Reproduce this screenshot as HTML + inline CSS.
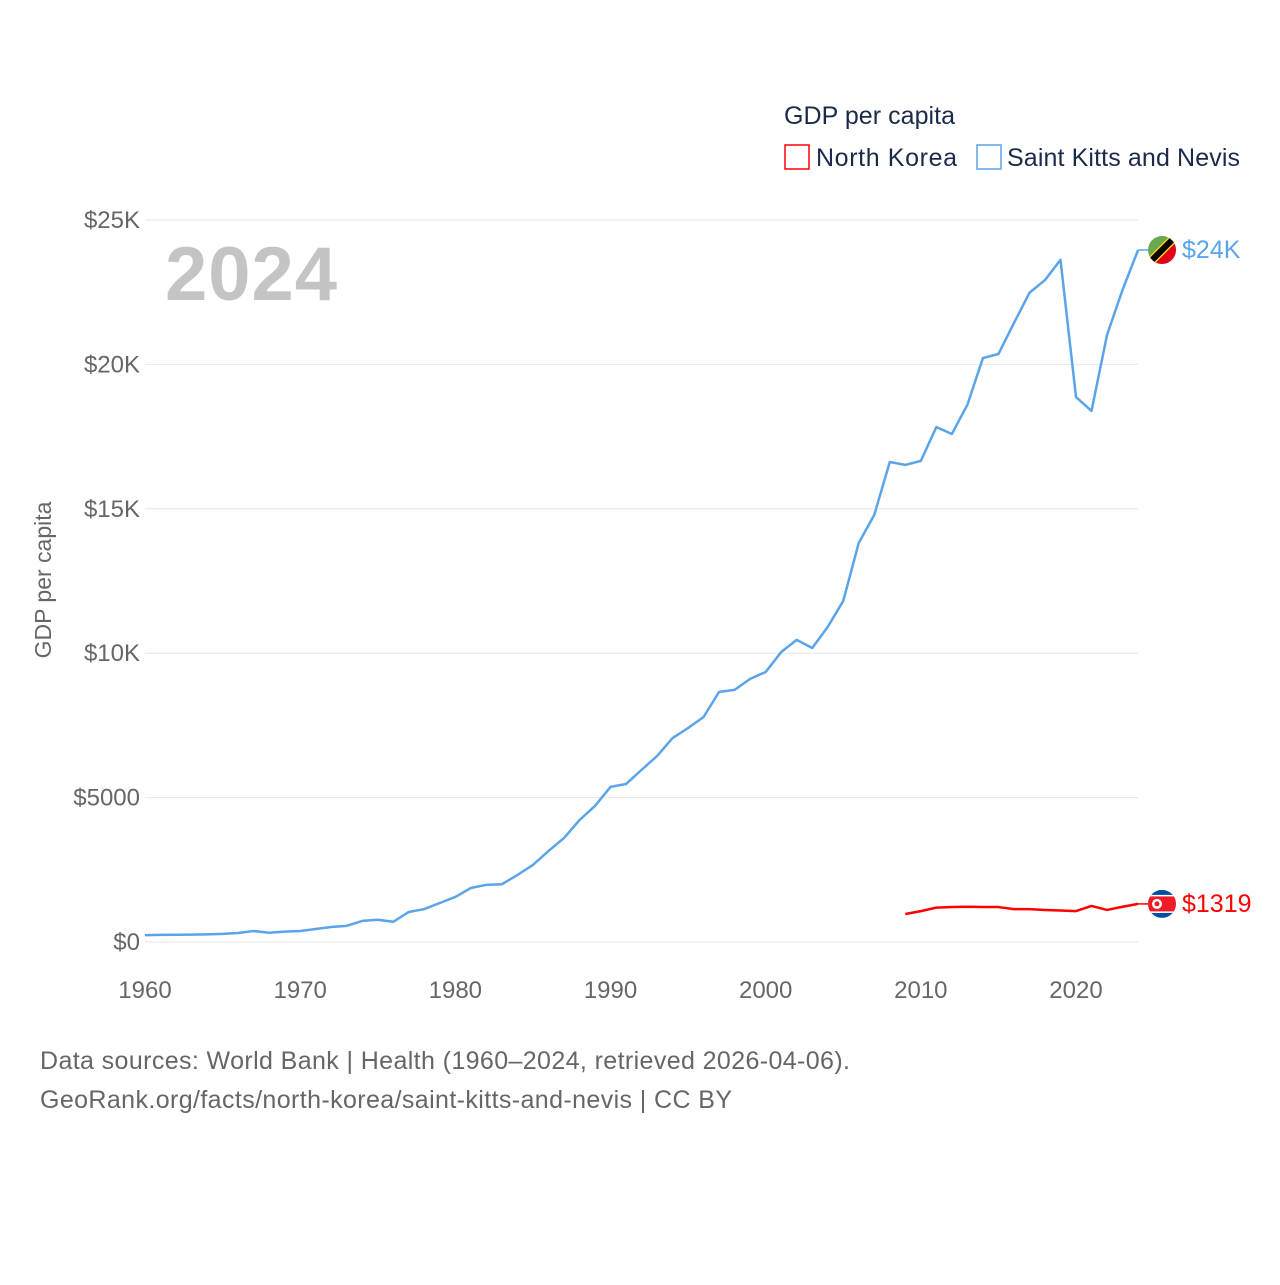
<!DOCTYPE html>
<html><head><meta charset="utf-8"><style>
body{margin:0;background:#fff;font-family:"Liberation Sans",sans-serif}
svg text{font-family:"Liberation Sans",sans-serif}
</style></head><body>
<svg width="1280" height="1280" xmlns="http://www.w3.org/2000/svg">
<text x="784" y="124" font-size="25" fill="#1b2a48" textLength="171">GDP per capita</text>
<g><rect x="785" y="145" width="24" height="24" fill="none" stroke="#f00" stroke-width="1.5"/><text x="816" y="166" font-size="25" fill="#1b2a48" textLength="141">North Korea</text></g>
<g><rect x="977" y="145" width="24" height="24" fill="none" stroke="#5ba4ea" stroke-width="1.5"/><text x="1007" y="166" font-size="25" fill="#1b2a48" textLength="233">Saint Kitts and Nevis</text></g>
<text x="165" y="300" font-size="76" font-weight="bold" fill="#c4c4c4" textLength="172">2024</text>
<text transform="translate(51,580) rotate(-90)" text-anchor="middle" font-size="23" fill="#666">GDP per capita</text>
<g id="grid"></g><g id="lines"></g>
<text x="40" y="1069" font-size="25" fill="#666" textLength="810">Data sources: World Bank | Health (1960–2024, retrieved 2026-04-06).</text>
<text x="40" y="1108" font-size="25" fill="#666" textLength="692">GeoRank.org/facts/north-korea/saint-kitts-and-nevis | CC BY</text>
</svg>
<script>
const yTicks=[0,5000,10000,15000,20000,25000];
const yTickLabels=["$0","$5000","$10K","$15K","$20K","$25K"];
const xTicks=[1960,1970,1980,1990,2000,2010,2020];
const kittsStart=1960;
const kittsValues=[240,245,250,255,265,280,310,380,320,360,380,450,520,560,730,770,700,1040,1140,1350,1560,1870,1980,2000,2320,2670,3150,3600,4220,4710,5370,5470,5960,6440,7060,7410,7790,8660,8730,9110,9350,10040,10460,10180,10910,11810,13820,14790,16620,16520,16660,17830,17590,18600,20220,20360,21430,22480,22920,23620,18870,18390,21020,22580,23960];
const nkStart=2009;
const nkValues=[970,1070,1190,1210,1220,1210,1210,1140,1140,1110,1090,1070,1250,1110,1220,1319];
const NS="http://www.w3.org/2000/svg";
const x=yr=>145+(yr-1960)*(1076-145)/60;
const y=v=>942-v*(722/25000);
function mk(t,a,p){const e=document.createElementNS(NS,t);for(const k in a)e.setAttribute(k,a[k]);p.appendChild(e);return e;}
const g=document.getElementById('grid'),L=document.getElementById('lines');
yTicks.forEach((v,i)=>{
 const l=mk('line',{x1:145,x2:1138,y1:y(v),y2:y(v),stroke:'#e6e6e6','stroke-width':1},g);
 
 
 const t=mk('text',{x:140,y:y(v)+8,'text-anchor':'end','font-size':24,fill:'#666'},g);
 t.textContent=yTickLabels[i];
 
 
});
xTicks.forEach(v=>{
 const t=mk('text',{x:x(v),y:998,'text-anchor':'middle','font-size':24,fill:'#666'},g);
 t.textContent=v;
 
 
});
function series(start,vals,col,name){
 const pts=vals.map((v,i)=>x(start+i)+','+y(v)).join(' ');
 const p=mk('polyline',{points:pts,fill:'none',stroke:col,'stroke-width':2.5,'stroke-linejoin':'round'},L);
 
 
}
series(kittsStart,kittsValues,'#5ba4ea','saint-kitts-line');
series(nkStart,nkValues,'#ff0000','north-korea-line');
const kLast=kittsValues[kittsValues.length-1],nLast=nkValues[nkValues.length-1];
const ky=y(kLast),ny=y(nLast);
const kf=mk('g',{},L);


mk('line',{x1:1138,x2:1148,y1:ky,y2:ky,stroke:'#5ba4ea','stroke-width':1.5},kf);
mk('clipPath',{id:'ck'},kf).appendChild(document.createElementNS(NS,'circle'));
const cc=kf.querySelector('#ck circle');cc.setAttribute('cx',1162);cc.setAttribute('cy',ky);cc.setAttribute('r',14);
const cg=mk('g',{'clip-path':'url(#ck)'},kf);
mk('polygon',{points:`1148,${ky-14} 1176,${ky-14} 1148,${ky+14}`,fill:'#6aa84f'},cg);
mk('polygon',{points:`1176,${ky-14} 1176,${ky+14} 1148,${ky+14}`,fill:'#e0001a'},cg);
mk('line',{x1:1148,y1:ky+14,x2:1176,y2:ky-14,stroke:'#f5d000','stroke-width':9},cg);
mk('line',{x1:1148,y1:ky+14,x2:1176,y2:ky-14,stroke:'#000','stroke-width':6},cg);
const kt=mk('text',{x:1182,y:ky+8,'font-size':25,fill:'#5ba4ea'},L);
kt.textContent='$24K';


const nf=mk('g',{},L);


mk('line',{x1:1138,x2:1148,y1:ny,y2:ny,stroke:'#f00','stroke-width':1.5},nf);
mk('clipPath',{id:'cn'},nf).appendChild(document.createElementNS(NS,'circle'));
const cn=nf.querySelector('#cn circle');cn.setAttribute('cx',1162);cn.setAttribute('cy',ny);cn.setAttribute('r',14);
const ng=mk('g',{'clip-path':'url(#cn)'},nf);
mk('rect',{x:1148,y:ny-14,width:28,height:28,fill:'#024fa2'},ng);
mk('rect',{x:1148,y:ny-9,width:28,height:18,fill:'#fff'},ng);
mk('rect',{x:1148,y:ny-7.5,width:28,height:15,fill:'#ed1c27'},ng);
mk('circle',{cx:1157,cy:ny,r:5,fill:'#fff'},ng);
mk('circle',{cx:1157,cy:ny,r:2.5,fill:'#ed1c27'},ng);
const nt=mk('text',{x:1182,y:ny+8,'font-size':25,fill:'#ff0000'},L);
nt.textContent='$'+nLast;


</script>
</body></html>
